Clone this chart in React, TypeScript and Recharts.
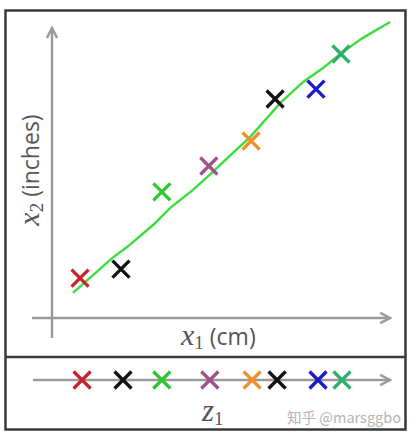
import React from "react";
import {
  ComposedChart,
  Line,
  ReferenceLine,
  Scatter,
  ScatterChart,
  Cell,
  XAxis,
  YAxis,
} from "recharts";

// measured points (x1 cm, x2 inches), in picture units
const pointX = [8.3, 20.4, 32.5, 46.4, 58.9, 66.0, 78.1, 85.5];
const pointY = [13.4, 16.4, 42.3, 51.0, 59.4, 73.5, 76.8, 88.6];
// projections onto z1
const z1Values = [8.9, 21.0, 32.5, 46.7, 59.2, 66.6, 78.7, 85.8];
// hand-drawn green fit line
const fitX = [6.2, 17.8, 22.2, 29.9, 34.9, 41.7, 47.6, 53.6, 58.6, 67.5, 74.3, 80.2, 86.1, 92.0, 100];
const fitY = [8.4, 20.1, 23.8, 31.2, 36.9, 43.0, 49.0, 55.5, 60.7, 72.1, 79.2, 83.9, 89.3, 94.0, 99.3];

const markerColors = ["#c8232c", "#111111", "#2ec82e", "#a0508a", "#f0902a", "#111111", "#1a1ac8", "#2eb06a"];

const points = pointX.map((x, i) => ({ x, y: pointY[i] }));
const projected = z1Values.map((x) => ({ x, y: 0 }));
const fitLine = fitX.map((x, i) => ({ x, y: fitY[i] }));

const AXIS = "#9a9a9a";
const TEXT = "#555";
const FRAME = "#3a3a3a";
const SERIF = "'Liberation Serif', 'DejaVu Serif', serif";
const SANS = "'Open Sans', sans-serif";

function Cross(props: any) {
  const { cx, cy, fill } = props;
  const r = 8.5;
  return (
    <path
      d={`M${cx - r},${cy - r}L${cx + r},${cy + r}M${cx + r},${cy - r}L${cx - r},${cy + r}`}
      stroke={fill}
      strokeWidth={3.3}
      fill="none"
    />
  );
}

function Arrow(props: any) {
  const { x1, y1, x2, y2 } = props;
  const a = Math.atan2(y2 - y1, x2 - x1);
  const len = 11;
  const spread = 0.48;
  const ax = x2 - len * Math.cos(a - spread);
  const ay = y2 - len * Math.sin(a - spread);
  const bx = x2 - len * Math.cos(a + spread);
  const by = y2 - len * Math.sin(a + spread);
  return (
    <g>
      <line x1={x1} y1={y1} x2={x2} y2={y2} stroke={AXIS} strokeWidth={2.5} />
      <path d={`M${ax},${ay}L${x2},${y2}L${bx},${by}`} stroke={AXIS} strokeWidth={2.5} fill="none" />
    </g>
  );
}

export default function App() {
  return (
    <div style={{ position: "fixed", left: 0, top: 0, width: 411, height: 438, background: "#fff" }}>
      <div style={{ position: "absolute", left: 0, top: 0 }}>
        <ComposedChart width={411} height={357} margin={{ top: 20, right: 21, bottom: 39, left: 52 }}>
          <XAxis type="number" dataKey="x" domain={[0, 100]} hide />
          <YAxis type="number" dataKey="y" domain={[0, 100]} hide />
          <ReferenceLine segment={[{ x: 0, y: -6.7 }, { x: 0, y: 97.3 }]} ifOverflow="visible" shape={Arrow} />
          <ReferenceLine segment={[{ x: -5.9, y: 0 }, { x: 100, y: 0 }]} ifOverflow="visible" shape={Arrow} />
          <Line
            data={fitLine}
            dataKey="y"
            type="linear"
            stroke="#3fdc3f"
            strokeWidth={2.4}
            dot={false}
            isAnimationActive={false}
          />
          <Scatter data={points} dataKey="y" shape={Cross} isAnimationActive={false}>
            {points.map((_, i) => (
              <Cell key={i} fill={markerColors[i]} />
            ))}
          </Scatter>
        </ComposedChart>
      </div>
      <div style={{ position: "absolute", left: 0, top: 357 }}>
        <ScatterChart width={411} height={73} margin={{ top: 3, right: 21, bottom: 30, left: 52 }}>
          <XAxis type="number" dataKey="x" domain={[0, 100]} hide />
          <YAxis type="number" dataKey="y" domain={[-1, 1]} hide />
          <ReferenceLine segment={[{ x: -5.6, y: 0 }, { x: 100, y: 0 }]} ifOverflow="visible" shape={Arrow} />
          <Scatter data={projected} dataKey="y" shape={Cross} isAnimationActive={false}>
            {projected.map((_, i) => (
              <Cell key={i} fill={markerColors[i]} />
            ))}
          </Scatter>
        </ScatterChart>
      </div>
      <svg width={411} height={438} style={{ position: "absolute", left: 0, top: 0, pointerEvents: "none" }}>
        <path
          d="M5.5,10.5H405.5V429.5H5.5Z M5.5,357H405.5"
          stroke={FRAME}
          strokeWidth={2.5}
          fill="none"
        />
        <text x={181} y={345} fill={TEXT}>
          <tspan fontFamily={SERIF} fontStyle="italic" fontSize={30}>x</tspan>
          <tspan fontFamily={SERIF} fontSize={19} dy={4}>1</tspan>
          <tspan fontFamily={SANS} fontSize={23} dy={-4}> (cm)</tspan>
        </text>
        <text x={39} y={170} fill={TEXT} textAnchor="middle" transform="rotate(-90 39 170)">
          <tspan fontFamily={SERIF} fontStyle="italic" fontSize={30}>x</tspan>
          <tspan fontFamily={SERIF} fontSize={19} dy={4}>2</tspan>
          <tspan fontFamily={SANS} fontSize={23} dy={-4}> (inches)</tspan>
        </text>
        <text x={202} y={421} fill={TEXT}>
          <tspan fontFamily={SERIF} fontStyle="italic" fontSize={31}>z</tspan>
          <tspan fontFamily={SERIF} fontSize={19} dy={4}>1</tspan>
        </text>
        <text x={287} y={423} fill="#b4b4b4" fontFamily="'Noto Sans CJK SC', sans-serif" fontSize={14.5}>
          知乎 @marsggbo
        </text>
      </svg>
    </div>
  );
}
